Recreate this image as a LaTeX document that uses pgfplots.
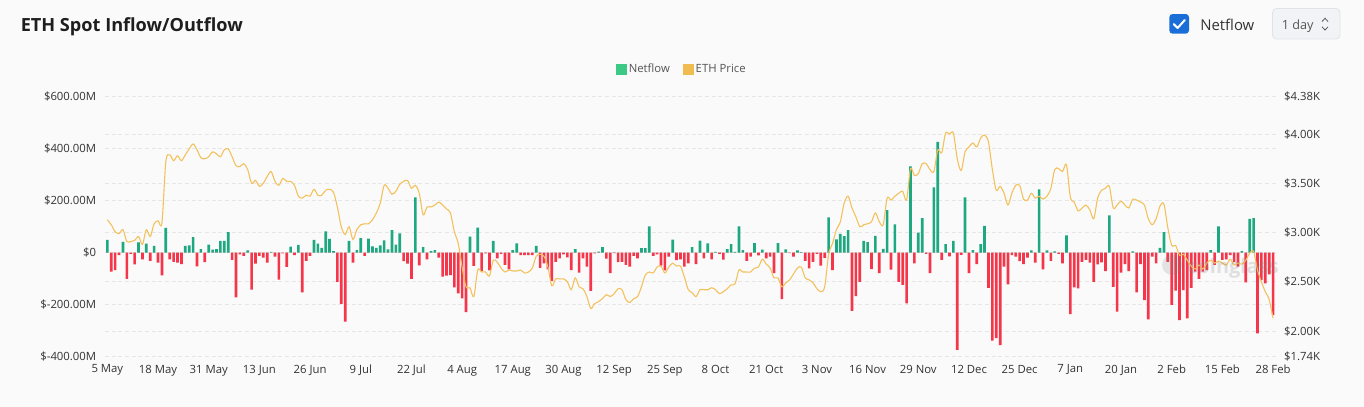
\documentclass[border=0pt]{standalone}
\usepackage{pgfplots}
\pgfplotsset{compat=1.18}
\usepackage{pgfplotstable}
\usepackage{fontspec}
\setmainfont{Open Sans}
\definecolor{bgc}{HTML}{FAFAFA}
\definecolor{upc}{HTML}{1EA882}
\definecolor{dnc}{HTML}{F5364A}
\definecolor{pricec}{HTML}{F3C05A}
\definecolor{legup}{HTML}{3CC985}
\definecolor{legpr}{HTML}{F0BB4F}
\definecolor{gridc}{HTML}{E6E6E6}
\definecolor{labc}{HTML}{333333}
\definecolor{legc}{HTML}{555555}
\definecolor{titc}{HTML}{1E1E1E}
\definecolor{chk}{HTML}{1A6ED8}
\definecolor{boxf}{HTML}{F1F3F6}
\definecolor{boxd}{HTML}{E0E3E8}
\pgfplotstableread{
d net price
0 49 3.13
1 -73 3.08
2 -67 3.01
3 -9 2.99
4 42 3.03
5 -101 2.91
6 -5 2.91
7 -45 2.92
8 40 2.96
9 -26 2.88
10 35 3.03
11 -31 2.96
12 26 3.09
13 -38 3.12
14 -87 3.10
15 95 3.72
16 -26 3.79
17 -35 3.73
18 -38 3.78
19 -44 3.73
20 26 3.79
21 28 3.85
22 60 3.90
23 -53 3.84
24 14 3.76
25 -36 3.75
26 31 3.77
27 12 3.82
28 14 3.80
29 45 3.77
30 45 3.84
31 79 3.85
32 -28 3.77
33 -172 3.68
34 -6 3.67
35 -12 3.70
36 9 3.64
37 -142 3.50
38 -42 3.53
39 -12 3.47
40 -19 3.50
41 -38 3.57
42 3 3.62
43 -15 3.52
44 -104 3.48
45 -3 3.55
46 -55 3.52
47 23 3.52
48 -9 3.48
49 30 3.37
50 -153 3.35
51 -31 3.38
52 -12 3.37
53 49 3.44
54 35 3.38
55 19 3.38
56 82 3.43
57 53 3.44
58 6 3.41
59 -112 3.26
60 -197 3.06
61 -265 2.98
62 45 3.06
63 -38 2.93
64 10 3.03
65 56 3.08
66 -12 3.09
67 54 3.09
68 24 3.13
69 19 3.20
70 28 3.30
71 47 3.48
72 13 3.45
73 87 3.39
74 31 3.42
75 74 3.49
76 -32 3.52
77 -42 3.53
78 -101 3.45
79 213 3.48
80 -49 3.40
81 21 3.18
82 -26 3.26
83 6 3.26
84 10 3.28
85 -19 3.31
86 -92 3.28
87 -88 3.24
88 -86 3.20
89 -133 3.01
90 -156 2.89
91 -176 2.65
92 -229 2.45
93 62 2.44
94 -51 2.35
95 96 2.62
96 -71 2.60
97 -3 2.60
98 -68 2.56
99 45 2.72
100 -22 2.70
101 -5 2.64
102 -47 2.60
103 -64 2.62
104 10 2.61
105 36 2.61
106 -9 2.62
107 -9 2.59
108 -9 2.60
109 -9 2.64
110 26 2.76
111 -58 2.78
112 -41 2.76
113 -64 2.65
114 -108 2.46
115 -35 2.53
116 -22 2.53
117 -6 2.53
118 -18 2.50
119 -67 2.42
120 14 2.54
121 -77 2.45
122 -22 2.43
123 -54 2.35
124 -147 2.23
125 -3 2.28
126 4 2.30
127 21 2.33
128 -23 2.37
129 -79 2.35
130 -2 2.38
131 -36 2.43
132 -35 2.42
133 -47 2.32
134 -54 2.29
135 -12 2.33
136 -22 2.35
137 18 2.45
138 18 2.57
139 101 2.60
140 -12 2.59
141 -6 2.65
142 -50 2.66
143 -68 2.59
144 -15 2.65
145 50 2.69
146 -29 2.66
147 -26 2.66
148 -54 2.55
149 -41 2.42
150 21 2.39
151 -44 2.35
152 46 2.42
153 -22 2.42
154 36 2.42
155 -26 2.44
156 3 2.42
157 -5 2.38
158 -27 2.40
159 14 2.43
160 33 2.47
161 3 2.48
162 101 2.62
163 10 2.60
164 -31 2.60
165 -15 2.60
166 37 2.64
167 -10 2.65
168 12 2.73
169 -22 2.68
170 -15 2.64
171 -79 2.54
172 37 2.54
173 -179 2.45
174 13 2.49
175 -2 2.52
176 -15 2.58
177 9 2.64
178 2 2.65
179 -31 2.54
180 -60 2.52
181 -35 2.49
182 -5 2.43
183 -50 2.40
184 -20 2.45
185 136 2.78
186 -67 2.89
187 51 3.03
188 72 3.11
189 64 3.30
190 87 3.37
191 -224 3.25
192 -167 3.16
193 -112 3.06
194 45 3.08
195 41 3.09
196 -63 3.11
197 65 3.20
198 -79 3.11
199 15 3.08
200 164 3.35
201 -65 3.33
202 109 3.37
203 -112 3.40
204 -124 3.42
205 -195 3.33
206 332 3.65
207 -41 3.58
208 77 3.60
209 133 3.70
210 -5 3.70
211 -79 3.64
212 251 3.62
213 426 3.84
214 -28 3.81
215 33 4.01
216 -14 4.00
217 45 4.01
218 -374 3.75
219 -8 3.63
220 213 3.82
221 -79 3.87
222 10 3.91
223 -44 3.87
224 33 3.96
225 103 3.99
226 -135 3.92
227 -338 3.64
228 -329 3.43
229 -355 3.47
230 -54 3.40
231 -122 3.28
232 -9 3.40
233 -15 3.48
234 -32 3.48
235 -44 3.34
236 -19 3.33
237 9 3.40
238 -38 3.35
239 244 3.37
240 -64 3.34
241 9 3.37
242 -31 3.45
243 5 3.64
244 -5 3.65
245 -41 3.62
246 67 3.69
247 -236 3.36
248 -133 3.31
249 -137 3.22
250 -35 3.25
251 -28 3.28
252 -38 3.23
253 -112 3.14
254 -45 3.35
255 -37 3.43
256 -71 3.45
257 144 3.47
258 -131 3.25
259 -227 3.28
260 -77 3.32
261 -44 3.28
262 -71 3.25
263 5 3.34
264 -153 3.33
265 -44 3.31
266 -182 3.28
267 -256 3.14
268 -15 3.08
269 -41 3.14
270 19 3.27
271 79 3.29
272 -35 3.05
273 -201 2.87
274 -146 2.87
275 -259 2.77
276 -144 2.78
277 -253 2.72
278 -135 2.66
279 -73 2.63
280 -101 2.67
281 -73 2.63
282 -67 2.69
283 10 2.72
284 -47 2.69
285 101 2.71
286 -28 2.69
287 -26 2.67
288 -9 2.73
289 -35 2.67
290 -54 2.69
291 6 2.68
292 -114 2.72
293 130 2.79
294 133 2.81
295 -310 2.62
296 -105 2.50
297 -118 2.40
298 -83 2.32
299 -240 2.13
}\flowdata
\pgfplotsset{
  base/.style={
    at={(78.75pt,-267.525pt)}, anchor=south west,
    scale only axis, width=878.25pt, height=195pt,
    xmin=-0.6, xmax=299.75,
    axis line style={draw=none},
    major tick length=0pt, tick style={draw=none},
    grid style={gridc, line width=0.75pt, dash pattern=on 3pt off 2pt},
    tick label style={font=\fontsize{8.5}{10}\selectfont, text=labc},
  }
}
\begin{document}
\begin{tikzpicture}
\fill[bgc] (0pt,0pt) rectangle (1023pt,-305.25pt);
% right scale: grid and labels
\begin{axis}[base, ymin=1.74, ymax=4.38,
  axis y line*=right, axis x line=none,
  xtick=\empty,
  ytick={1.74,2,2.5,3,3.5,4,4.38},
  yticklabels={\$1.74K,\$2.00K,\$2.50K,\$3.00K,\$3.50K,\$4.00K,\$4.38K},
  ymajorgrids,
  yticklabel style={xshift=2.6pt},
]
\addplot[draw=none] coordinates {(0,2)};
\end{axis}
% netflow bars
\begin{axis}[base, ymin=-400, ymax=600,
  axis y line*=left, axis x line*=bottom,
  ytick={-400,-200,0,200,400,600},
  yticklabels={\$-400.00M,\$-200.00M,\$0,\$200.00M,\$400.00M,\$600.00M},
  ymajorgrids,
  xtick={0,13,...,299},
  xticklabels={5 May,18 May,31 May,13 Jun,26 Jun,9 Jul,22 Jul,4 Aug,17 Aug,30 Aug,12 Sep,25 Sep,8 Oct,21 Oct,3 Nov,16 Nov,29 Nov,12 Dec,25 Dec,7 Jan,20 Jan,2 Feb,15 Feb,28 Feb},
  yticklabel style={xshift=-3.1pt},
  xticklabel style={yshift=-2.6pt},
  legend columns=-1,
  legend style={at={(0.4927,1)}, anchor=center, yshift=20.8pt,
    draw=none, fill=none, font=\fontsize{8.5}{10}\selectfont, text=legc,
    /tikz/every even column/.append style={column sep=7.5pt}},
]
\addlegendimage{legend image code/.code={\fill[legup] (0pt,-3.75pt) rectangle (7.5pt,3.75pt);}}
\addlegendentry{Netflow}
\addlegendimage{legend image code/.code={\fill[legpr] (0pt,-3.75pt) rectangle (7.5pt,3.75pt);}}
\addlegendentry{ETH Price}
\addplot[ybar, bar width=2pt, bar shift=0pt, fill=upc, draw=none, forget plot]
  table[x=d, y expr={max(\thisrow{net},0)}]{\flowdata};
\addplot[ybar, bar width=2pt, bar shift=0pt, fill=dnc, draw=none, forget plot]
  table[x=d, y expr={min(\thisrow{net},0)}]{\flowdata};
\end{axis}
% price line
\begin{axis}[base, ymin=1.74, ymax=4.38, hide axis]
\addplot[pricec, line width=0.8pt, smooth, tension=0.5] table[x=d, y=price]{\flowdata};
\end{axis}
% decorations in px units
\begin{scope}[x=0.75pt,y=-0.75pt]
\node[anchor=base west, inner sep=0, font=\fontsize{13.6}{16}\selectfont\bfseries, text=titc] at (20.5,31.5) {ETH Spot Inflow/Outflow};
\fill[chk, rounded corners=2.5pt] (1169.3,14) rectangle (1189,33.7);
\draw[white, line width=1.5pt, line cap=round, line join=round] (1173.8,24.2) -- (1177.6,28) -- (1184.8,20);
\node[anchor=base west, inner sep=0, font=\fontsize{11.2}{13}\selectfont, text=labc] at (1200,30) {Netflow};
\filldraw[fill=boxf, draw=boxd, line width=0.6pt, rounded corners=3pt] (1272.5,8.5) rectangle (1340,39);
\node[anchor=base west, inner sep=0, font=\fontsize{9.5}{11}\selectfont, text=legc] at (1281.5,29) {1 day};
\draw[legc, line width=0.6pt] (1322,21.5) -- (1325,18.3) -- (1328,21.5);
\draw[legc, line width=0.6pt] (1322,26.8) -- (1325,30) -- (1328,26.8);
\fill[gray, opacity=0.18] (1172,265) circle (10);
\node[anchor=west, inner sep=0, font=\fontsize{15}{17}\selectfont\bfseries, text=gray, opacity=0.22] at (1187,268) {coinglass};
\end{scope}
\end{tikzpicture}
\end{document}
